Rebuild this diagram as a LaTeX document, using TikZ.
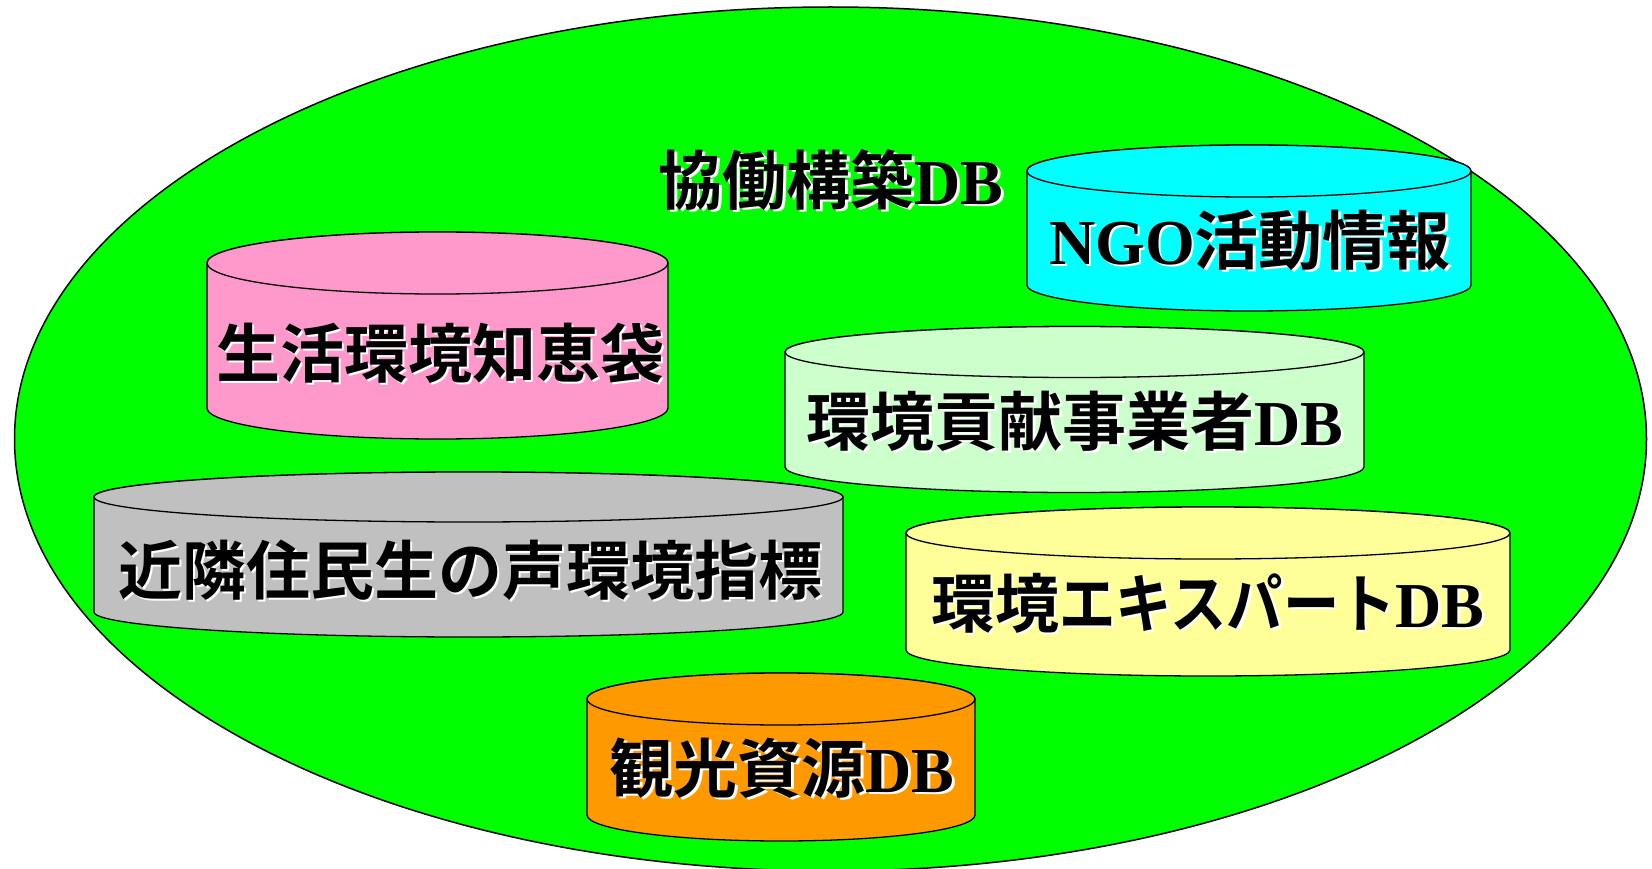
\documentclass[tikz,border=0pt]{standalone}
\usepackage{fontspec}
\usepackage{graphicx}
\setmainfont{Liberation Serif}
\newfontfamily\cjk{Noto Sans CJK JP}[BoldFont=* Bold]
\definecolor{bggreen}{HTML}{00FF00}
\definecolor{cpink}{HTML}{FF99CC}
\definecolor{ccyan}{HTML}{00FFFF}
\definecolor{clgreen}{HTML}{CCFFCC}
\definecolor{cgray}{HTML}{C0C0C0}
\definecolor{cyellow}{HTML}{FFFF99}
\definecolor{corange}{HTML}{FF9900}
\tikzset{
  outerell/.style={draw=black, line width=1.5pt, fill=bggreen},
  cylline/.style={draw=black, line width=1.3pt},
  lbl/.style={inner sep=0pt, font=\fontsize{64}{70}\selectfont\bfseries},
}
% x1, x2, y top centre, y bottom centre, ry, colour
\newcommand\dbcyl[6]{%
  \draw[cylline, fill=#6] (#1,#3) -- (#1,#4)
    arc[start angle=180, end angle=0, x radius={(#2-#1)/2}, y radius=#5]
    -- (#2,#3)
    arc[start angle=0, end angle=-180, x radius={(#2-#1)/2}, y radius=#5] -- cycle;
  \draw[cylline, fill=#6] ({(#1+#2)/2},#3) ellipse [x radius={(#2-#1)/2}, y radius=#5];
}
% name, x, y, text
\newcommand\shtext[4]{%
  \node[lbl, text=white] (#1s) at (#2+2.5,#3+2.5) {#4};
  \node[lbl] (#1) at (#2,#3) {#4};
}
\begin{document}
\begin{tikzpicture}[x=1pt, y=-1pt]
\useasboundingbox (0,0) rectangle (1652,869);
\draw[outerell] (830.5,439) ellipse [x radius=816, y radius=432];

\shtext{title}{831}{180}{{\cjk 協働構築}DB}

\dbcyl{207}{668}{263}{408}{31}{cpink}
\shtext{pink}{440}{353}{{\cjk 生活環境知恵袋}}

\dbcyl{1027}{1471}{171}{285}{26}{ccyan}
\shtext{ngo}{1250}{240}{NGO{\cjk 活動情報}}

\dbcyl{94}{843}{497}{612}{25}{cgray}
\shtext{gray}{470}{570}{{\cjk 近隣住民生の声環境指標}}

\dbcyl{785}{1364}{352}{467}{25.5}{clgreen}
\shtext{lgreen}{1075}{421}{{\cjk 環境貢献事業者}DB}

\dbcyl{906}{1510}{533}{650}{26}{cyellow}
\shtext{yellow}{1208}{603}{{\cjk 環境\scalebox{0.88}[1]{エキスパート}}DB}

\dbcyl{587}{975}{699}{815}{26}{corange}
\shtext{orange}{782}{768}{{\cjk 観光資源}DB}
\end{tikzpicture}
\end{document}
